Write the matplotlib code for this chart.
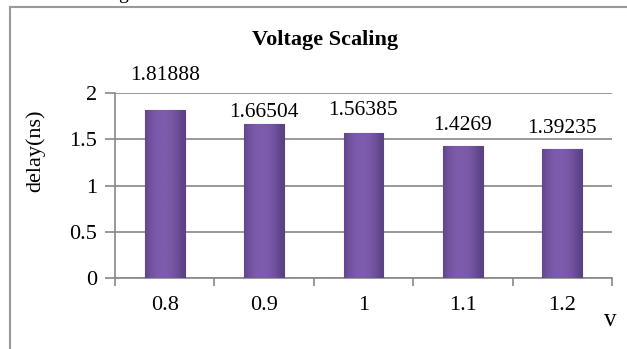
import numpy as np
import matplotlib
matplotlib.use('Agg')
import matplotlib.pyplot as plt
from matplotlib.lines import Line2D

# datos del grafico
voltajes = ['0.8', '0.9', '1', '1.1', '1.2']
delay = [1.81888, 1.66504, 1.56385, 1.4269, 1.39235]
etiquetas = ['1.81888', '1.66504', '1.56385', '1.4269', '1.39235']
y_ticks = [0, 0.5, 1, 1.5, 2]

# desplazamiento (pixeles) de cada etiqueta sobre la barra
desplaz = [34, 11, 23, 21, 21]

plt.rcParams['font.family'] = ['Liberation Serif', 'DejaVu Serif']

fig = plt.figure(figsize=(6.27, 3.49), dpi=100)
ax = fig.add_axes([0.1834, 0.2034, 0.976 - 0.1834, 0.7335 - 0.2034])

x = np.arange(len(voltajes))
ancho = 0.4
barras = ax.bar(x, delay, width=ancho, color='#7757a2', edgecolor='#5a4083', linewidth=0.8, zorder=3)

# degradado suave dentro de cada barra
grad = np.linspace(0, 1, 64)
grad = 1 - 0.35 * np.abs(grad - 0.45) ** 2 * 4
grad = np.tile(grad, (2, 1))
cmap = matplotlib.colors.LinearSegmentedColormap.from_list('morado', ['#5d4286', '#7e5cad'])
for b in barras:
    im = ax.imshow(grad, cmap=cmap, aspect='auto', vmin=0.65, vmax=1,
                   extent=[b.get_x(), b.get_x() + b.get_width(), 0, b.get_height()], zorder=4)
    im.set_clip_path(b)

for xi, val, txt, d in zip(x, delay, etiquetas, desplaz):
    ax.annotate(txt, (xi, val), xytext=(0, d), textcoords='offset pixels',
                ha='center', va='center', fontsize=15.5)

ax.set_xlim(-0.5, len(voltajes) - 0.5)
ax.set_ylim(0, 2)
ax.set_yticks(y_ticks)
ax.set_yticklabels(['0', '0.5', '1', '1.5', '2'], fontsize=16)
ax.set_xticks(x)
ax.set_xticklabels(voltajes, fontsize=16)
ax.set_xticks(np.arange(len(voltajes) + 1) - 0.5, minor=True)
ax.tick_params(axis='x', which='major', length=0, pad=13)
ax.tick_params(axis='x', which='minor', length=6, color='#888888', width=1.2)
ax.tick_params(axis='y', length=7, color='#888888', width=1.2, pad=6)
ax.yaxis.grid(True, color='#888888', linewidth=1.2, zorder=0)
ax.set_axisbelow(True)

for s in ['top', 'right']:
    ax.spines[s].set_visible(False)
for s in ['left', 'bottom']:
    ax.spines[s].set_color('#888888')
    ax.spines[s].set_linewidth(1.2)

# titulo centrado en el marco del grafico
fig.text(325 / 627, 1 - 40 / 349, 'Voltage Scaling', ha='center', va='center',
         fontsize=16, fontweight='bold')

# etiquetas de los ejes
fig.text(35 / 627, 1 - 151 / 349, 'delay(ns)', rotation=90, ha='center', va='center', fontsize=16)
fig.text(610 / 627, 1 - 320 / 349, 'v', ha='center', va='center', fontsize=18)

# marco exterior y texto cortado de arriba
fig.add_artist(Line2D([10 / 627, 10 / 627], [0, 1 - 7 / 349], color='#999999', linewidth=1.5))
fig.add_artist(Line2D([10 / 627, 1], [1 - 7 / 349, 1 - 7 / 349], color='#999999', linewidth=1.5))
fig.text(118 / 627, 1 + 1 / 349, 'g', ha='left', va='baseline', fontsize=14)

fig.savefig('out.png', dpi=100)
